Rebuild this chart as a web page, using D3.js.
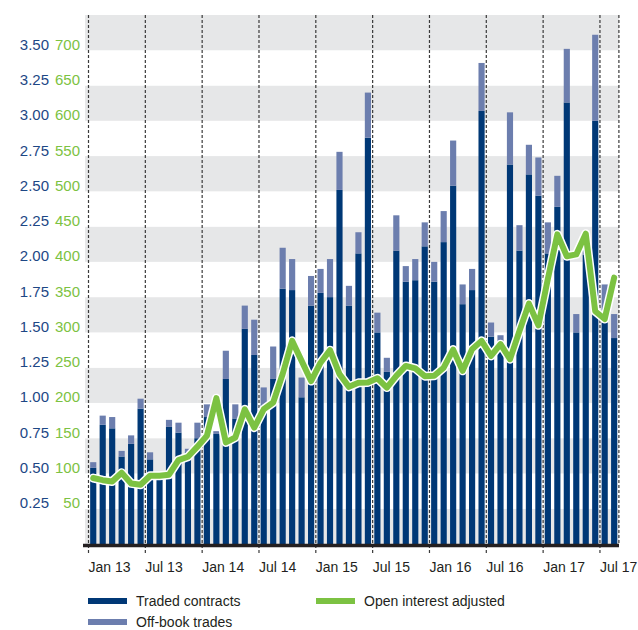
<!DOCTYPE html>
<html>
<head>
<meta charset="utf-8">
<script src="https://cdn.jsdelivr.net/npm/d3@7"></script>
<style>
  body { margin: 0; background: #fff; }
  svg text { font-family: "Liberation Sans", Arial, sans-serif; }
</style>
</head>
<body>
<div id="chart"></div>
<script>
const width = 638, height = 630;

// monthly, Jan 13 .. Aug 17
const years = [13, 14, 15, 16, 17];
const monthNames = ["Jan","Feb","Mar","Apr","May","Jun","Jul","Aug","Sep","Oct","Nov","Dec"];
let months = [];
years.forEach(function(y) {
  monthNames.forEach(function(m) { months.push(m + " " + y); });
});
months = months.slice(0, 56);

// traded contracts (left blue scale)
const traded = [0.54, 0.845, 0.82, 0.62, 0.71, 0.96, 0.60, 0.49, 0.83, 0.79, 0.65, 0.75,
  0.90, 0.78, 1.17, 0.89, 1.525, 1.34, 0.99, 1.17, 1.81, 1.80, 1.04, 1.69,
  1.78, 1.75, 2.51, 1.69, 2.06, 2.88, 1.50, 1.22, 2.08, 1.86, 1.87, 2.11,
  1.86, 2.14, 2.54, 1.70, 1.80, 3.07, 1.47, 1.44, 2.69, 2.08, 2.62, 2.47,
  2.06, 2.39, 3.13, 1.50, 2.05, 3.00, 1.57, 1.46];
// off-book trades, stacked on top
const offBook = [0.04, 0.065, 0.08, 0.04, 0.06, 0.07, 0.05, 0.01, 0.05, 0.07, 0.025, 0.11,
  0.09, 0.02, 0.20, 0.10, 0.165, 0.25, 0.12, 0.23, 0.29, 0.22, 0.14, 0.21,
  0.17, 0.27, 0.27, 0.14, 0.15, 0.32, 0.14, 0.10, 0.25, 0.11, 0.15, 0.17,
  0.14, 0.22, 0.32, 0.14, 0.15, 0.34, 0.10, 0.04, 0.37, 0.18, 0.21, 0.27,
  0.22, 0.22, 0.38, 0.13, 0.10, 0.61, 0.27, 0.17];
// open interest adjusted (right green scale, shown on the left)
const openInterest = [93.5, 90.5, 88.7, 101, 85.9, 84, 96.7, 96.7, 98.2, 119, 123.7, 138,
  153.4, 206.8, 144, 151, 191, 165, 191, 200.6, 241, 288, 259.6, 231,
  257, 274.8, 240.8, 222.8, 228.5, 229, 235, 221.8, 238.4, 252.5, 249, 238,
  238.4, 250, 275.6, 245.6, 276, 288, 266.7, 283.3, 262, 302, 340.8, 310,
  376, 439, 408, 410.6, 440, 330, 319, 377.6];

const blueTicks = [0.25, 0.5, 0.75, 1.0, 1.25, 1.5, 1.75, 2.0, 2.25, 2.5, 2.75, 3.0, 3.25, 3.5];
const greenTicks = [50, 100, 150, 200, 250, 300, 350, 400, 450, 500, 550, 600, 650, 700];
const xTickLabels = ["Jan 13","Jul 13","Jan 14","Jul 14","Jan 15","Jul 15","Jan 16","Jul 16","Jan 17","Jul 17"];

const blue = "#1d4785", green = "#7cc242", navy = "#003876", lightNavy = "#6c7eae";

let svg = d3.select("#chart").append("svg")
  .attr("width", width).attr("height", height);

let x = d3.scaleBand()
  .domain(months)
  .range([88.5, 618.9])
  .paddingInner(0.35)
  .paddingOuter(0.175);

let y = d3.scaleLinear().domain([0, 3.75]).range([544, 15]);
let yG = d3.scaleLinear().domain([0, 750]).range([544, 15]);

// alternating bands
let bandStops = d3.range(0, 3.75, 0.25);
svg.append("g").selectAll("rect").data(bandStops).enter()
  .append("rect")
  .attr("x", 85).attr("width", 619 - 85)
  .attr("y", function(d) { return y(d + 0.25); })
  .attr("height", function(d) { return y(d) - y(d + 0.25); })
  .attr("fill", function(d, i) { return (14 - i) % 2 === 0 ? "#e6e7e8" : "#fff"; });

// y labels
svg.append("g").selectAll("text").data(blueTicks).enter()
  .append("text")
  .attr("x", 49).attr("y", function(d) { return y(d) - 0.5; })
  .attr("text-anchor", "end")
  .attr("fill", blue).style("font-size", "15px")
  .text(function(d) { return d.toFixed(2); });
svg.append("g").selectAll("text").data(greenTicks).enter()
  .append("text")
  .attr("x", 80).attr("y", function(d) { return yG(d) - 0.5; })
  .attr("text-anchor", "end")
  .attr("fill", green).style("font-size", "15px")
  .text(function(d) { return d; });

// stacked bars
let barG = svg.append("g");
barG.selectAll("rect.traded").data(months).enter()
  .append("rect").attr("class", "traded")
  .attr("x", function(d) { return x(d); })
  .attr("width", x.bandwidth())
  .attr("y", function(d, i) { return y(traded[i]); })
  .attr("height", function(d, i) { return y(0) - y(traded[i]); })
  .attr("fill", navy);
barG.selectAll("rect.off").data(months).enter()
  .append("rect").attr("class", "off")
  .attr("x", function(d) { return x(d); })
  .attr("width", x.bandwidth())
  .attr("y", function(d, i) { return y(traded[i] + offBook[i]); })
  .attr("height", function(d, i) { return y(traded[i]) - y(traded[i] + offBook[i]); })
  .attr("fill", lightNavy);

// dotted month lines (every 6 months) + right edge
let tickX = function(i) { return x.range()[0] + i * x.step(); };
let lineIdx = d3.range(0, 56, 6).concat([56]);
svg.append("g").selectAll("line").data(lineIdx).enter()
  .append("line")
  .attr("x1", function(d) { return tickX(d); })
  .attr("x2", function(d) { return tickX(d); })
  .attr("y1", 15).attr("y2", function(d) { return d === 56 ? 544 : 554; })
  .attr("stroke", "#3a3a3a").attr("stroke-width", 1.2)
  .attr("stroke-dasharray", "3,2");

// open interest line
let line = d3.line()
  .x(function(d, i) { return x(months[i]) + x.bandwidth() / 2; })
  .y(function(d) { return yG(d); });
svg.append("path").datum(openInterest)
  .attr("d", line).attr("fill", "none")
  .attr("stroke", "#fff").attr("stroke-width", 9)
  .attr("stroke-linejoin", "round").attr("stroke-linecap", "round");
svg.append("path").datum(openInterest)
  .attr("d", line).attr("fill", "none")
  .attr("stroke", green).attr("stroke-width", 6)
  .attr("stroke-linejoin", "round").attr("stroke-linecap", "round");

// baseline
svg.append("line")
  .attr("x1", 83).attr("x2", 619)
  .attr("y1", 545.5).attr("y2", 545.5)
  .attr("stroke", "#231f20").attr("stroke-width", 3.5);

// x labels
svg.append("g").selectAll("text").data(xTickLabels).enter()
  .append("text")
  .attr("x", function(d, i) { return tickX(i * 6); })
  .attr("y", 572)
  .attr("fill", "#231f20").style("font-size", "14px")
  .text(function(d) { return d; });

// legend
let legend = [
  {label: "Traded contracts", color: navy, x: 88, y: 601},
  {label: "Off-book trades", color: lightNavy, x: 88, y: 622},
  {label: "Open interest adjusted", color: green, x: 316, y: 601}
];
let lg = svg.append("g").selectAll("g").data(legend).enter().append("g");
lg.append("rect")
  .attr("x", function(d) { return d.x; })
  .attr("y", function(d) { return d.y - 3; })
  .attr("width", 39).attr("height", 6)
  .attr("fill", function(d) { return d.color; });
lg.append("text")
  .attr("x", function(d) { return d.x + 48; })
  .attr("y", function(d) { return d.y + 5; })
  .attr("fill", "#231f20").style("font-size", "14px")
  .text(function(d) { return d.label; });
</script>
</body>
</html>
